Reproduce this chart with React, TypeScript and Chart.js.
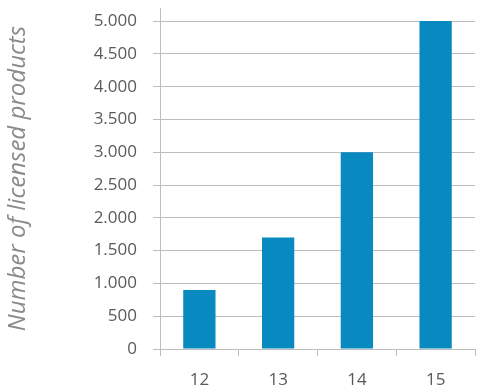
import React, { useEffect, useRef } from "react";
import { Chart, registerables } from "chart.js";

Chart.register(...registerables);

const categories = ["12", "13", "14", "15"];
const licensedProducts = [900, 1700, 3000, 5000];
const yTickValues = [0, 500, 1000, 1500, 2000, 2500, 3000, 3500, 4000, 4500, 5000];
const yTitle = "Number of licensed products";

export default function App() {
  const ref = useRef<HTMLCanvasElement>(null);
  useEffect(() => {
    document.body.style.margin = "0";
    const ctx = ref.current!;
    const chart = new Chart(ctx, {
      type: "bar",
      data: {
        labels: categories,
        datasets: [
          {
            data: licensedProducts,
            backgroundColor: "#0889c0",
            barPercentage: 0.41,
            categoryPercentage: 1,
          },
        ],
      },
      options: {
        animation: false,
        responsive: false,
        maintainAspectRatio: false,
        layout: { padding: { top: 8, right: 2, left: 0, bottom: 0 } },
        plugins: { legend: { display: false }, tooltip: { enabled: false } },
        scales: {
          x: {
            afterFit: (scale: any) => {
              scale.height = 40;
              scale.paddingLeft = 0;
              scale.paddingRight = 0;
            },
            grid: {
              offset: true,
              drawOnChartArea: false,
              drawTicks: true,
              tickLength: 7,
              color: "#bdbdbd",
            },
            border: { color: "#bdbdbd" },
            ticks: {
              color: "#5a5a5a",
              font: { family: "Open Sans", size: 17 },
              padding: 14,
            },
          },
          y: {
            min: 0,
            max: 5200,
            afterBuildTicks: (scale: any) => {
              scale.ticks = yTickValues.map((v) => ({ value: v }));
            },
            afterFit: (scale: any) => {
              scale.width = 160;
              scale.paddingTop = 0;
              scale.paddingBottom = 0;
            },
            grid: {
              color: "#bdbdbd",
              tickLength: 7,
            },
            border: { color: "#bdbdbd" },
            ticks: {
              color: "#5a5a5a",
              padding: 16,
              font: { family: "Open Sans", size: 17 },
              callback: (v: any) => Number(v).toLocaleString("de-DE"),
            },
            title: {
              display: true,
              text: yTitle,
              color: "#8a8a8a",
              font: { family: "Open Sans", size: 24, style: "italic" },
              padding: { top: 4, bottom: 0 },
            },
          },
        },
      },
    });
    return () => chart.destroy();
  }, []);
  return (
    <div style={{ width: 477, height: 389 }}>
      <canvas ref={ref} width={477} height={389} style={{ display: "block" }} />
    </div>
  );
}
